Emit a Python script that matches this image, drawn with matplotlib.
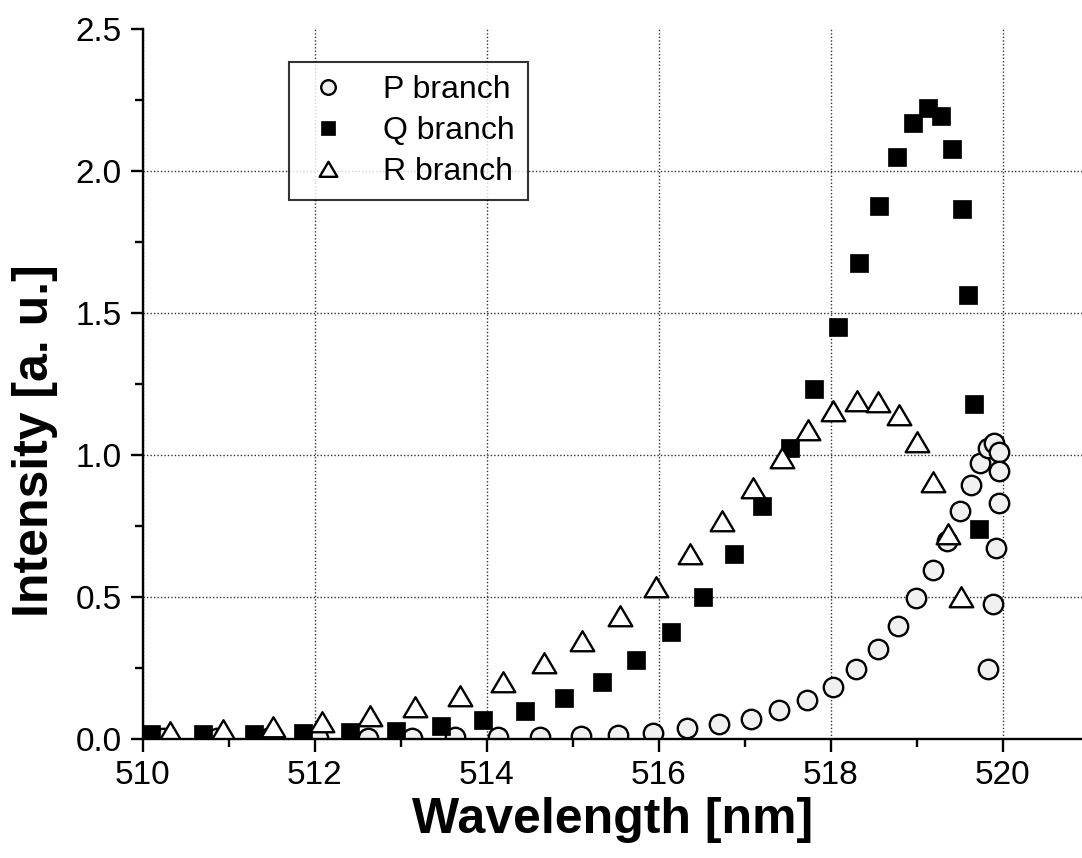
import numpy as np
import matplotlib.pyplot as plt
from matplotlib.path import Path
from matplotlib.ticker import MultipleLocator

# P branch
p_wl = [510.24, 510.86, 511.46, 512.04, 512.62, 513.13, 513.63, 514.13, 514.62, 515.09,
        515.52, 515.93, 516.33, 516.70, 517.07, 517.40, 517.72, 518.02, 518.29, 518.55,
        518.78, 518.99, 519.19, 519.35, 519.50, 519.63, 519.73, 519.83, 519.90, 519.95,
        519.95, 519.95, 519.92, 519.88, 519.83]
p_int = [0.003, 0.003, 0.004, 0.004, 0.005, 0.006, 0.007, 0.008, 0.009, 0.011,
         0.015, 0.022, 0.039, 0.054, 0.073, 0.103, 0.138, 0.186, 0.246, 0.317,
         0.400, 0.496, 0.596, 0.698, 0.804, 0.895, 0.972, 1.025, 1.044, 1.013,
         0.946, 0.833, 0.673, 0.475, 0.246]

# Q branch
q_wl = [510.10, 510.70, 511.29, 511.86, 512.41, 512.95, 513.47, 513.96, 514.45, 514.90,
        515.34, 515.74, 516.14, 516.51, 516.87, 517.20, 517.53, 517.81, 518.08, 518.33,
        518.56, 518.77, 518.96, 519.13, 519.28, 519.41, 519.53, 519.60, 519.67, 519.72]
q_int = [0.020, 0.020, 0.020, 0.022, 0.027, 0.028, 0.048, 0.068, 0.100, 0.144,
         0.203, 0.279, 0.379, 0.502, 0.651, 0.822, 1.025, 1.232, 1.452, 1.677,
         1.878, 2.050, 2.170, 2.223, 2.195, 2.078, 1.867, 1.564, 1.181, 0.739]

# R branch
r_wl = [510.32, 510.93, 511.52, 512.09, 512.64, 513.17, 513.69, 514.19, 514.66, 515.11,
        515.55, 515.97, 516.36, 516.73, 517.09, 517.43, 517.74, 518.02, 518.30, 518.55,
        518.79, 519.00, 519.19, 519.36, 519.51]
r_int = [0.025, 0.033, 0.043, 0.060, 0.082, 0.113, 0.152, 0.203, 0.268, 0.345,
         0.435, 0.537, 0.651, 0.769, 0.886, 0.991, 1.089, 1.157, 1.192, 1.189,
         1.142, 1.048, 0.905, 0.723, 0.500]

plt.rcParams['font.family'] = ['Liberation Sans', 'DejaVu Sans']

# flat triangle like the original software
tri = Path([(0, 1.0), (-1.15, -0.95), (1.15, -0.95), (0, 1.0)],
           [Path.MOVETO, Path.LINETO, Path.LINETO, Path.CLOSEPOLY])

fig = plt.figure(figsize=(10.82, 8.58), dpi=100)
ax = fig.add_axes([0.1319, 0.1383, 0.8681, 0.8276])

ax.plot(p_wl, p_int, 'o', ms=14, mfc='#f0f0f0', mec='black', mew=1.7, label='P branch')
ax.plot(q_wl, q_int, 's', ms=13.5, mfc='black', mec='black', mew=0.5, label='Q branch')
ax.plot(r_wl, r_int, ls='none', marker=tri, ms=17, mfc='white', mec='black', mew=1.7,
        label='R branch')

ax.set_xlim(510, 520.92)
ax.set_ylim(0, 2.5)
ax.xaxis.set_major_locator(MultipleLocator(2))
ax.xaxis.set_minor_locator(MultipleLocator(1))
ax.yaxis.set_major_locator(MultipleLocator(0.5))
ax.yaxis.set_minor_locator(MultipleLocator(0.25))
ax.yaxis.set_major_formatter(plt.FormatStrFormatter('%.1f'))

ax.spines['top'].set_visible(False)
ax.spines['right'].set_visible(False)
ax.spines['left'].set_linewidth(1.7)
ax.spines['bottom'].set_linewidth(1.7)
ax.tick_params(which='major', direction='out', length=9, width=1.7, labelsize=24, pad=6)
ax.tick_params(which='minor', direction='out', length=6, width=1.7)

ax.grid(True, which='major', ls=(0, (1, 1.5)), color='#333333', lw=1.0)
ax.set_axisbelow(True)

ax.set_xlabel('Wavelength [nm]', fontsize=36, fontweight='bold', va='center')
ax.set_ylabel('Intensity [a. u.]', fontsize=36, fontweight='bold', va='center')
ax.xaxis.set_label_coords(0.5, -0.1137)
ax.yaxis.set_label_coords(-0.1147, 0.42)

leg = ax.legend(loc='upper left', bbox_to_anchor=(0.156, 0.954), borderaxespad=0,
                fontsize=23, frameon=True, fancybox=False, markerscale=0.75,
                handlelength=1.6, handletextpad=0.95, labelspacing=0.35,
                borderpad=0.4)
leg.get_frame().set_edgecolor('black')
leg.get_frame().set_linewidth(1.5)

# no grid line along the top edge (2.5)
fig.canvas.draw()
for t in ax.yaxis.get_major_ticks():
    if abs(t.get_loc() - 2.5) < 1e-6:
        t.gridline.set_visible(False)

plt.savefig('out.png', dpi=100)
